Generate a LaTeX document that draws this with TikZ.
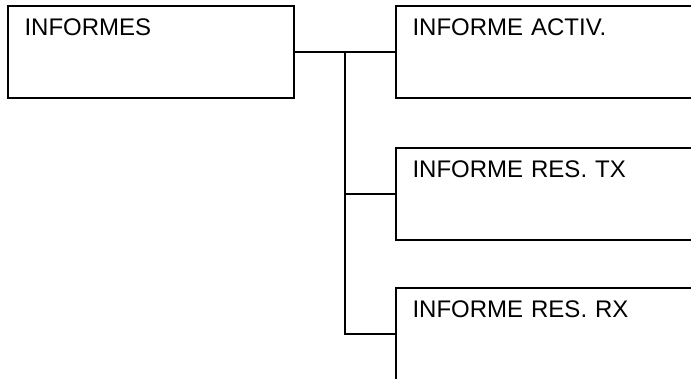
\documentclass[tikz,border=0pt]{standalone}
\usepackage{fontspec}
\setmainfont{Liberation Sans}
\usetikzlibrary{positioning}

\begin{document}
\begin{tikzpicture}[
  x=1pt, y=-1pt,
  font=\fontsize{24}{28}\selectfont,
  menu/.style={
    rectangle, draw=black, line width=2pt, anchor=north west,
    inner sep=0pt, inner xsep=16.5pt, align=left,
    text height=29.5pt, text depth=62.5pt
  },
  link/.style={draw=black, line width=2pt}
]
\useasboundingbox (0,0) rectangle (691,378);
\clip (0,0) rectangle (691,378);

\node[menu, text width=253pt] (informes) at (7,5) {INFORMES};

\node[menu, text width=267pt] (activ) at (395,5) {INFORME ACTIV.};
\node[menu, text width=267pt] (restx) at (395,146.5) {INFORME RES. TX};
\node[menu, text width=267pt] (resrx) at (395,287) {INFORME RES. RX};

\coordinate (fork) at (345,51);

\draw[link] (informes.east) -- (activ.west);
\draw[link] (fork) |- (restx.west);
\draw[link] (fork) |- (resrx.west);

\end{tikzpicture}
\end{document}
